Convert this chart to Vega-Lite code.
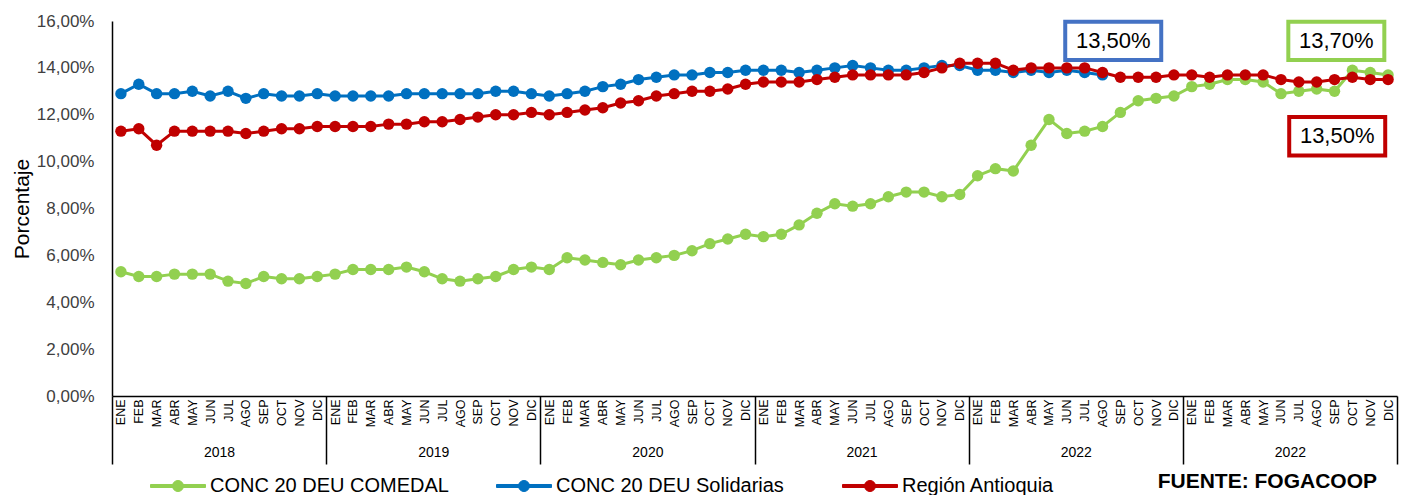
{
  "$schema": "https://vega.github.io/schema/vega-lite/v6.json",
  "width": 1285,
  "height": 375,
  "autosize": {"type": "none"},
  "padding": {"left": 112, "top": 21, "right": 6, "bottom": 99},
  "background": "white",
  "config": {"view": {"stroke": null}, "font": "Liberation Sans", "axis": {"grid": false}},
  "title": {"text": "FUENTE: FOGACOOP", "orient": "bottom", "anchor": "end", "frame": "group", "fontSize": 21, "fontWeight": "bold", "color": "black", "offset": -25, "dx": -20, "font": "Liberation Sans"},
  "datasets": {
    "series": [
      {"s":"CONC 20 DEU COMEDAL","i":0,"v":5.3},{"s":"CONC 20 DEU COMEDAL","i":1,"v":5.1},{"s":"CONC 20 DEU COMEDAL","i":2,"v":5.1},{"s":"CONC 20 DEU COMEDAL","i":3,"v":5.2},{"s":"CONC 20 DEU COMEDAL","i":4,"v":5.2},{"s":"CONC 20 DEU COMEDAL","i":5,"v":5.2},{"s":"CONC 20 DEU COMEDAL","i":6,"v":4.9},{"s":"CONC 20 DEU COMEDAL","i":7,"v":4.8},{"s":"CONC 20 DEU COMEDAL","i":8,"v":5.1},{"s":"CONC 20 DEU COMEDAL","i":9,"v":5.0},{"s":"CONC 20 DEU COMEDAL","i":10,"v":5.0},{"s":"CONC 20 DEU COMEDAL","i":11,"v":5.1},
      {"s":"CONC 20 DEU COMEDAL","i":12,"v":5.2},{"s":"CONC 20 DEU COMEDAL","i":13,"v":5.4},{"s":"CONC 20 DEU COMEDAL","i":14,"v":5.4},{"s":"CONC 20 DEU COMEDAL","i":15,"v":5.4},{"s":"CONC 20 DEU COMEDAL","i":16,"v":5.5},{"s":"CONC 20 DEU COMEDAL","i":17,"v":5.3},{"s":"CONC 20 DEU COMEDAL","i":18,"v":5.0},{"s":"CONC 20 DEU COMEDAL","i":19,"v":4.9},{"s":"CONC 20 DEU COMEDAL","i":20,"v":5.0},{"s":"CONC 20 DEU COMEDAL","i":21,"v":5.1},{"s":"CONC 20 DEU COMEDAL","i":22,"v":5.4},{"s":"CONC 20 DEU COMEDAL","i":23,"v":5.5},
      {"s":"CONC 20 DEU COMEDAL","i":24,"v":5.4},{"s":"CONC 20 DEU COMEDAL","i":25,"v":5.9},{"s":"CONC 20 DEU COMEDAL","i":26,"v":5.8},{"s":"CONC 20 DEU COMEDAL","i":27,"v":5.7},{"s":"CONC 20 DEU COMEDAL","i":28,"v":5.6},{"s":"CONC 20 DEU COMEDAL","i":29,"v":5.8},{"s":"CONC 20 DEU COMEDAL","i":30,"v":5.9},{"s":"CONC 20 DEU COMEDAL","i":31,"v":6.0},{"s":"CONC 20 DEU COMEDAL","i":32,"v":6.2},{"s":"CONC 20 DEU COMEDAL","i":33,"v":6.5},{"s":"CONC 20 DEU COMEDAL","i":34,"v":6.7},{"s":"CONC 20 DEU COMEDAL","i":35,"v":6.9},
      {"s":"CONC 20 DEU COMEDAL","i":36,"v":6.8},{"s":"CONC 20 DEU COMEDAL","i":37,"v":6.9},{"s":"CONC 20 DEU COMEDAL","i":38,"v":7.3},{"s":"CONC 20 DEU COMEDAL","i":39,"v":7.8},{"s":"CONC 20 DEU COMEDAL","i":40,"v":8.2},{"s":"CONC 20 DEU COMEDAL","i":41,"v":8.1},{"s":"CONC 20 DEU COMEDAL","i":42,"v":8.2},{"s":"CONC 20 DEU COMEDAL","i":43,"v":8.5},{"s":"CONC 20 DEU COMEDAL","i":44,"v":8.7},{"s":"CONC 20 DEU COMEDAL","i":45,"v":8.7},{"s":"CONC 20 DEU COMEDAL","i":46,"v":8.5},{"s":"CONC 20 DEU COMEDAL","i":47,"v":8.6},
      {"s":"CONC 20 DEU COMEDAL","i":48,"v":9.4},{"s":"CONC 20 DEU COMEDAL","i":49,"v":9.7},{"s":"CONC 20 DEU COMEDAL","i":50,"v":9.6},{"s":"CONC 20 DEU COMEDAL","i":51,"v":10.7},{"s":"CONC 20 DEU COMEDAL","i":52,"v":11.8},{"s":"CONC 20 DEU COMEDAL","i":53,"v":11.2},{"s":"CONC 20 DEU COMEDAL","i":54,"v":11.3},{"s":"CONC 20 DEU COMEDAL","i":55,"v":11.5},{"s":"CONC 20 DEU COMEDAL","i":56,"v":12.1},{"s":"CONC 20 DEU COMEDAL","i":57,"v":12.6},{"s":"CONC 20 DEU COMEDAL","i":58,"v":12.7},{"s":"CONC 20 DEU COMEDAL","i":59,"v":12.8},
      {"s":"CONC 20 DEU COMEDAL","i":60,"v":13.2},{"s":"CONC 20 DEU COMEDAL","i":61,"v":13.3},{"s":"CONC 20 DEU COMEDAL","i":62,"v":13.5},{"s":"CONC 20 DEU COMEDAL","i":63,"v":13.5},{"s":"CONC 20 DEU COMEDAL","i":64,"v":13.4},{"s":"CONC 20 DEU COMEDAL","i":65,"v":12.9},{"s":"CONC 20 DEU COMEDAL","i":66,"v":13.0},{"s":"CONC 20 DEU COMEDAL","i":67,"v":13.1},{"s":"CONC 20 DEU COMEDAL","i":68,"v":13.0},{"s":"CONC 20 DEU COMEDAL","i":69,"v":13.9},{"s":"CONC 20 DEU COMEDAL","i":70,"v":13.8},{"s":"CONC 20 DEU COMEDAL","i":71,"v":13.7},
      {"s":"CONC 20 DEU Solidarias","i":0,"v":12.9},{"s":"CONC 20 DEU Solidarias","i":1,"v":13.3},{"s":"CONC 20 DEU Solidarias","i":2,"v":12.9},{"s":"CONC 20 DEU Solidarias","i":3,"v":12.9},{"s":"CONC 20 DEU Solidarias","i":4,"v":13.0},{"s":"CONC 20 DEU Solidarias","i":5,"v":12.8},{"s":"CONC 20 DEU Solidarias","i":6,"v":13.0},{"s":"CONC 20 DEU Solidarias","i":7,"v":12.7},{"s":"CONC 20 DEU Solidarias","i":8,"v":12.9},{"s":"CONC 20 DEU Solidarias","i":9,"v":12.8},{"s":"CONC 20 DEU Solidarias","i":10,"v":12.8},{"s":"CONC 20 DEU Solidarias","i":11,"v":12.9},
      {"s":"CONC 20 DEU Solidarias","i":12,"v":12.8},{"s":"CONC 20 DEU Solidarias","i":13,"v":12.8},{"s":"CONC 20 DEU Solidarias","i":14,"v":12.8},{"s":"CONC 20 DEU Solidarias","i":15,"v":12.8},{"s":"CONC 20 DEU Solidarias","i":16,"v":12.9},{"s":"CONC 20 DEU Solidarias","i":17,"v":12.9},{"s":"CONC 20 DEU Solidarias","i":18,"v":12.9},{"s":"CONC 20 DEU Solidarias","i":19,"v":12.9},{"s":"CONC 20 DEU Solidarias","i":20,"v":12.9},{"s":"CONC 20 DEU Solidarias","i":21,"v":13.0},{"s":"CONC 20 DEU Solidarias","i":22,"v":13.0},{"s":"CONC 20 DEU Solidarias","i":23,"v":12.9},
      {"s":"CONC 20 DEU Solidarias","i":24,"v":12.8},{"s":"CONC 20 DEU Solidarias","i":25,"v":12.9},{"s":"CONC 20 DEU Solidarias","i":26,"v":13.0},{"s":"CONC 20 DEU Solidarias","i":27,"v":13.2},{"s":"CONC 20 DEU Solidarias","i":28,"v":13.3},{"s":"CONC 20 DEU Solidarias","i":29,"v":13.5},{"s":"CONC 20 DEU Solidarias","i":30,"v":13.6},{"s":"CONC 20 DEU Solidarias","i":31,"v":13.7},{"s":"CONC 20 DEU Solidarias","i":32,"v":13.7},{"s":"CONC 20 DEU Solidarias","i":33,"v":13.8},{"s":"CONC 20 DEU Solidarias","i":34,"v":13.8},{"s":"CONC 20 DEU Solidarias","i":35,"v":13.9},
      {"s":"CONC 20 DEU Solidarias","i":36,"v":13.9},{"s":"CONC 20 DEU Solidarias","i":37,"v":13.9},{"s":"CONC 20 DEU Solidarias","i":38,"v":13.8},{"s":"CONC 20 DEU Solidarias","i":39,"v":13.9},{"s":"CONC 20 DEU Solidarias","i":40,"v":14.0},{"s":"CONC 20 DEU Solidarias","i":41,"v":14.1},{"s":"CONC 20 DEU Solidarias","i":42,"v":14.0},{"s":"CONC 20 DEU Solidarias","i":43,"v":13.9},{"s":"CONC 20 DEU Solidarias","i":44,"v":13.9},{"s":"CONC 20 DEU Solidarias","i":45,"v":14.0},{"s":"CONC 20 DEU Solidarias","i":46,"v":14.1},{"s":"CONC 20 DEU Solidarias","i":47,"v":14.1},
      {"s":"CONC 20 DEU Solidarias","i":48,"v":13.9},{"s":"CONC 20 DEU Solidarias","i":49,"v":13.9},{"s":"CONC 20 DEU Solidarias","i":50,"v":13.8},{"s":"CONC 20 DEU Solidarias","i":51,"v":13.9},{"s":"CONC 20 DEU Solidarias","i":52,"v":13.8},{"s":"CONC 20 DEU Solidarias","i":53,"v":13.9},{"s":"CONC 20 DEU Solidarias","i":54,"v":13.8},{"s":"CONC 20 DEU Solidarias","i":55,"v":13.7},
      {"s":"Región Antioquia","i":0,"v":11.3},{"s":"Región Antioquia","i":1,"v":11.4},{"s":"Región Antioquia","i":2,"v":10.7},{"s":"Región Antioquia","i":3,"v":11.3},{"s":"Región Antioquia","i":4,"v":11.3},{"s":"Región Antioquia","i":5,"v":11.3},{"s":"Región Antioquia","i":6,"v":11.3},{"s":"Región Antioquia","i":7,"v":11.2},{"s":"Región Antioquia","i":8,"v":11.3},{"s":"Región Antioquia","i":9,"v":11.4},{"s":"Región Antioquia","i":10,"v":11.4},{"s":"Región Antioquia","i":11,"v":11.5},
      {"s":"Región Antioquia","i":12,"v":11.5},{"s":"Región Antioquia","i":13,"v":11.5},{"s":"Región Antioquia","i":14,"v":11.5},{"s":"Región Antioquia","i":15,"v":11.6},{"s":"Región Antioquia","i":16,"v":11.6},{"s":"Región Antioquia","i":17,"v":11.7},{"s":"Región Antioquia","i":18,"v":11.7},{"s":"Región Antioquia","i":19,"v":11.8},{"s":"Región Antioquia","i":20,"v":11.9},{"s":"Región Antioquia","i":21,"v":12.0},{"s":"Región Antioquia","i":22,"v":12.0},{"s":"Región Antioquia","i":23,"v":12.1},
      {"s":"Región Antioquia","i":24,"v":12.0},{"s":"Región Antioquia","i":25,"v":12.1},{"s":"Región Antioquia","i":26,"v":12.2},{"s":"Región Antioquia","i":27,"v":12.3},{"s":"Región Antioquia","i":28,"v":12.5},{"s":"Región Antioquia","i":29,"v":12.6},{"s":"Región Antioquia","i":30,"v":12.8},{"s":"Región Antioquia","i":31,"v":12.9},{"s":"Región Antioquia","i":32,"v":13.0},{"s":"Región Antioquia","i":33,"v":13.0},{"s":"Región Antioquia","i":34,"v":13.1},{"s":"Región Antioquia","i":35,"v":13.3},
      {"s":"Región Antioquia","i":36,"v":13.4},{"s":"Región Antioquia","i":37,"v":13.4},{"s":"Región Antioquia","i":38,"v":13.4},{"s":"Región Antioquia","i":39,"v":13.5},{"s":"Región Antioquia","i":40,"v":13.6},{"s":"Región Antioquia","i":41,"v":13.7},{"s":"Región Antioquia","i":42,"v":13.7},{"s":"Región Antioquia","i":43,"v":13.7},{"s":"Región Antioquia","i":44,"v":13.7},{"s":"Región Antioquia","i":45,"v":13.8},{"s":"Región Antioquia","i":46,"v":14.0},{"s":"Región Antioquia","i":47,"v":14.2},
      {"s":"Región Antioquia","i":48,"v":14.2},{"s":"Región Antioquia","i":49,"v":14.2},{"s":"Región Antioquia","i":50,"v":13.9},{"s":"Región Antioquia","i":51,"v":14.0},{"s":"Región Antioquia","i":52,"v":14.0},{"s":"Región Antioquia","i":53,"v":14.0},{"s":"Región Antioquia","i":54,"v":14.0},{"s":"Región Antioquia","i":55,"v":13.8},{"s":"Región Antioquia","i":56,"v":13.6},{"s":"Región Antioquia","i":57,"v":13.6},{"s":"Región Antioquia","i":58,"v":13.6},{"s":"Región Antioquia","i":59,"v":13.7},
      {"s":"Región Antioquia","i":60,"v":13.7},{"s":"Región Antioquia","i":61,"v":13.6},{"s":"Región Antioquia","i":62,"v":13.7},{"s":"Región Antioquia","i":63,"v":13.7},{"s":"Región Antioquia","i":64,"v":13.7},{"s":"Región Antioquia","i":65,"v":13.5},{"s":"Región Antioquia","i":66,"v":13.4},{"s":"Región Antioquia","i":67,"v":13.4},{"s":"Región Antioquia","i":68,"v":13.5},{"s":"Región Antioquia","i":69,"v":13.6},{"s":"Región Antioquia","i":70,"v":13.5},{"s":"Región Antioquia","i":71,"v":13.5}
    ],
    "notes": [
      {"t":"13,50%","s":"CONC 20 DEU Solidarias","i":55.6,"v":15.15},
      {"t":"13,70%","s":"CONC 20 DEU COMEDAL","i":68.1,"v":15.15},
      {"t":"13,50%","s":"Región Antioquia","i":68.15,"v":11.08}
    ]
  },
  "layer": [
    {
      "data": {"name": "series"},
      "mark": {"type": "line", "strokeWidth": 3},
      "encoding": {
        "x": {"field": "i", "type": "quantitative", "scale": {"domain": [-0.5, 71.5], "nice": false, "zero": false},
          "axis": {"orient": "bottom", "values": [0,1,2,3,4,5,6,7,8,9,10,11,12,13,14,15,16,17,18,19,20,21,22,23,24,25,26,27,28,29,30,31,32,33,34,35,36,37,38,39,40,41,42,43,44,45,46,47,48,49,50,51,52,53,54,55,56,57,58,59,60,61,62,63,64,65,66,67,68,69,70,71],
            "labelExpr": "['ENE','FEB','MAR','ABR','MAY','JUN','JUL','AGO','SEP','OCT','NOV','DIC'][datum.value % 12]",
            "labelAngle": 270, "labelAlign": "right", "labelBaseline": "middle", "labelFontSize": 12.5, "labelColor": "black", "labelPadding": 3,
            "ticks": false, "domain": true, "domainColor": "black", "domainWidth": 1.5, "labelOverlap": false, "labelFlush": false, "labelBound": false, "title": null, "grid": false}},
        "y": {"field": "v", "type": "quantitative", "scale": {"domain": [0, 16], "nice": false},
          "axis": {"values": [0,2,4,6,8,10,12,14,16], "labelExpr": "replace(format(datum.value, '.2f'), '.', ',') + '%'",
            "ticks": false, "domain": true, "domainColor": "black", "domainWidth": 1.5, "labelFontSize": 17, "labelColor": "#404040", "labelPadding": 18,
            "title": "Porcentaje", "titleFontSize": 21, "titleFontWeight": "normal", "titleColor": "black", "titlePadding": 4, "grid": false}},
        "color": {"field": "s", "type": "nominal",
          "scale": {"domain": ["CONC 20 DEU COMEDAL", "CONC 20 DEU Solidarias", "Región Antioquia"], "range": ["#92D050", "#0070C0", "#C00000"]},
          "legend": {"orient": "none", "legendX": 38, "legendY": 437, "direction": "horizontal", "title": null, "padding": 0,
            "symbolType": "M-1,-0.055H1V0.055H-1Z M0.2,0A0.2,0.2,0,1,1,-0.2,0A0.2,0.2,0,1,1,0.2,0Z", "symbolSize": 3025,
            "symbolStrokeWidth": 1, "labelFontSize": 20, "labelFont": "Liberation Sans", "labelColor": "black", "gridAlign": "all", "columnPadding": 45, "labelOffset": 4, "labelLimit": 400, "symbolOpacity": 1}}
      }
    },
    {
      "data": {"name": "series"},
      "mark": {"type": "point", "filled": true, "size": 130, "opacity": 1, "shape": "circle"},
      "encoding": {
        "x": {"field": "i", "type": "quantitative", "scale": {"domain": [-0.5, 71.5], "nice": false, "zero": false},
          "axis": {"orient": "bottom", "values": [-0.5, 11.5, 23.5, 35.5, 47.5, 59.5, 71.5], "labels": false, "ticks": true, "tickSize": 68, "tickColor": "black", "tickWidth": 1.5, "domain": false, "grid": false, "title": null}},
        "y": {"field": "v", "type": "quantitative", "scale": {"domain": [0, 16], "nice": false}, "axis": null},
        "color": {"field": "s", "type": "nominal"}
      }
    },
    {
      "data": {"name": "notes"},
      "mark": {"type": "point", "shape": "M-1,-0.4H1V0.4H-1Z", "size": 9216, "filled": true, "fill": "white", "strokeWidth": 4, "opacity": 1},
      "encoding": {
        "x": {"field": "i", "type": "quantitative", "scale": {"domain": [-0.5, 71.5], "nice": false, "zero": false},
          "axis": {"orient": "bottom", "values": [5.5, 17.5, 29.5, 41.5, 53.5, 65.5], "labelExpr": "['2018','2019','2020','2021','2022','2022'][floor(datum.value / 12)]",
            "ticks": false, "domain": false, "labelPadding": 49, "labelFontSize": 14, "labelColor": "black", "labelFlush": false, "labelOverlap": false, "title": null, "grid": false}},
        "y": {"field": "v", "type": "quantitative", "scale": {"domain": [0, 16], "nice": false}, "axis": null},
        "stroke": {"field": "s", "type": "nominal", "scale": {"domain": ["CONC 20 DEU COMEDAL", "CONC 20 DEU Solidarias", "Región Antioquia"], "range": ["#92D050", "#4472C4", "#C00000"]}, "legend": null}
      }
    },
    {
      "data": {"name": "notes"},
      "mark": {"type": "text", "fontSize": 22, "color": "black", "font": "Liberation Sans", "baseline": "middle", "align": "center"},
      "encoding": {
        "x": {"field": "i", "type": "quantitative", "scale": {"domain": [-0.5, 71.5], "nice": false, "zero": false}, "axis": null},
        "y": {"field": "v", "type": "quantitative", "scale": {"domain": [0, 16], "nice": false}, "axis": null},
        "text": {"field": "t"}
      }
    }
  ],
  "resolve": {"axis": {"x": "independent", "y": "independent"}}
}
